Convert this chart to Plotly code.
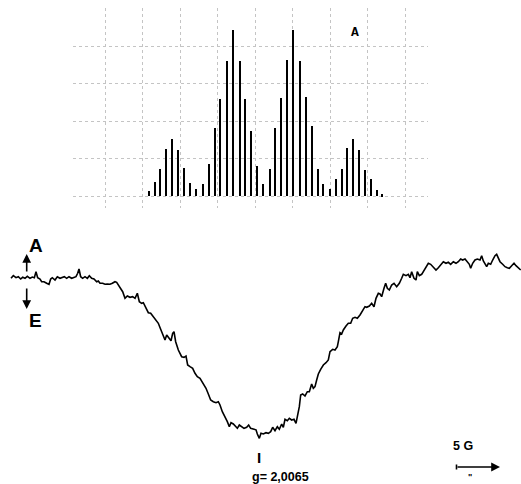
import plotly.graph_objects as go

# ---- EPR trace (field offset in G from g = 2.0065, signal in arbitrary units) ----
field_G = [
    -29.64, -29.36, -29.04, -28.76, -28.48, -28.24, -27.96, -27.68, -27.36, -27.08,
    -26.84, -26.64, -26.44, -26.16, -25.96, -25.68, -25.36, -25.08, -24.88, -24.68,
    -24.36, -24.08, -23.76, -23.56, -23.24, -22.96, -22.68, -22.36, -22.08, -21.84,
    -21.64, -21.48, -21.28, -21.04, -20.76, -20.48, -20.24, -19.96, -19.68, -19.36,
    -19.16, -18.96, -18.64, -18.36, -18.08, -17.76, -17.48, -17.16, -16.96, -16.76,
    -16.56, -16.24, -15.96, -15.68, -15.36, -15.04, -14.76, -14.48, -14.24, -13.96,
    -13.76, -13.44, -13.16, -12.88, -12.56, -12.24, -11.96, -11.68, -11.36, -11.16,
    -10.96, -10.68, -10.44, -10.24, -10.08, -9.88, -9.56, -9.16, -8.88, -8.64,
    -8.44, -8.16, -7.84, -7.56, -7.28, -6.96, -6.56, -6.24, -5.96, -5.68,
    -5.36, -5.04, -4.76, -4.56, -4.28, -3.96, -3.68, -3.44, -3.24, -2.96,
    -2.68, -2.48, -2.24, -1.96, -1.68, -1.36, -1.12, -0.88, -0.56, -0.24,
    -0.08, 0.16, 0.36, 0.64, 0.96, 1.24, 1.52, 1.76, 2.04, 2.32,
    2.56, 2.84, 3.04, 3.24, 3.52, 3.76, 4.04, 4.32, 4.56, 4.72,
    4.96, 5.12, 5.36, 5.64, 5.92, 6.16, 6.44, 6.64, 6.84, 7.04,
    7.24, 7.52, 7.84, 8.16, 8.44, 8.64, 8.96, 9.24, 9.52, 9.64,
    9.84, 10.04, 10.24, 10.56, 10.84, 11.12, 11.36, 11.64, 11.92, 12.24,
    12.56, 12.84, 13.04, 13.36, 13.64, 13.92, 14.16, 14.44, 14.64, 14.84,
    15.12, 15.32, 15.52, 15.76, 16.04, 16.32, 16.64, 16.96, 17.24, 17.44,
    17.76, 18.04, 18.24, 18.44, 18.72, 18.96, 19.12, 19.36, 19.64, 19.84,
    20.16, 20.44, 20.72, 21.04, 21.36, 21.64, 21.92, 22.24, 22.56, 22.84,
    23.12, 23.44, 23.76, 24.04, 24.32, 24.56, 24.84, 25.12, 25.36, 25.52,
    25.76, 26.04, 26.32, 26.64, 26.84, 27.04, 27.24, 27.44, 27.64, 27.92,
    28.16, 28.44, 28.64, 28.84, 29.04, 29.36, 29.64, 29.92, 30.16, 30.44,
    30.72, 30.96, 31.24, 31.52,
]
signal = [
    -0.03, 0.23, 0.03, 0.13, -0.10, 0.07, -0.03, 0.17, -0.03, 0.10,
    0.03, 0.63, 0.03, -0.10, -0.37, -0.37, -0.53, -0.63, -0.10, 0.03,
    -0.20, 0.13, -0.03, 0.03, 0.13, -0.03, 0.13, -0.03, 0.03, 0.13,
    0.47, 0.90, 0.13, -0.03, 0.13, -0.03, 0.23, -0.03, -0.10, -0.37,
    -0.30, -0.53, -0.53, -0.63, -0.60, -0.63, -0.53, -0.37, -0.43, -0.70,
    -0.95, -1.37, -2.03, -1.80, -1.93, -1.87, -2.03, -1.53, -2.37, -2.53,
    -2.47, -2.93, -3.47, -3.53, -3.87, -4.13, -4.53, -5.13, -5.70, -6.20,
    -5.70, -6.03, -6.27, -5.53, -5.37, -6.37, -7.20, -7.87, -7.93, -7.80,
    -8.70, -8.87, -9.03, -9.53, -9.87, -10.03, -10.60, -11.03, -11.60, -12.20,
    -12.37, -12.47, -12.37, -12.70, -13.37, -13.87, -14.37, -14.87, -14.47, -14.60,
    -14.80, -15.03, -14.70, -14.87, -15.03, -14.93, -14.70, -15.03, -15.13, -15.18,
    -15.60, -16.03, -15.53, -15.60, -15.47, -15.53, -15.37, -14.93, -15.27, -14.87,
    -15.13, -14.60, -14.93, -14.13, -14.27, -14.03, -14.20, -14.13, -14.53, -13.87,
    -12.87, -11.70, -11.60, -11.80, -11.37, -11.37, -10.60, -11.03, -10.87, -10.20,
    -9.60, -9.13, -8.70, -8.47, -8.20, -7.37, -7.13, -7.20, -6.87, -6.37,
    -5.47, -5.60, -5.20, -4.80, -4.53, -4.53, -4.03, -3.93, -4.03, -3.70,
    -3.27, -2.87, -2.93, -2.80, -2.53, -2.87, -2.03, -1.53, -1.60, -1.87,
    -1.03, -0.53, -1.03, -1.20, -0.70, -0.53, -0.87, -0.53, -0.03, 0.37,
    0.23, 0.37, 0.03, 0.63, -0.03, -0.20, 0.63, 0.23, 0.37, 0.63,
    0.97, 1.47, 1.37, 1.13, 0.80, 1.03, 1.37, 1.63, 1.47, 1.57,
    1.37, 1.63, 1.47, 1.63, 1.90, 1.80, 1.90, 1.63, 1.37, 0.97,
    1.47, 1.80, 1.90, 1.80, 2.23, 1.70, 1.37, 1.13, 1.47, 1.37,
    1.80, 2.23, 2.37, 2.03, 1.63, 1.37, 1.13, 1.03, 0.97, 1.23,
    1.47, 1.23, 0.97, 0.80,
]

# ---- simulated stick spectrum "A" (line position in G, relative intensity %) ----
stick_pos_G = [
    -13.08, -12.36, -11.76, -11.00, -10.32, -9.60, -8.84, -8.16, -7.44, -6.56,
    -5.88, -5.20, -4.52, -3.76, -3.04, -2.20, -1.52, -0.84, -0.16, 0.64,
    1.48, 2.08, 2.76, 3.52, 4.24, 5.00, 5.80, 6.48, 7.16, 7.84,
    8.60, 9.32, 10.04, 10.72, 11.44, 12.12, 12.80, 13.52, 14.24, 14.88,
]
stick_int = [
    3.0, 8.6, 16.2, 28.2, 34.2, 27.8, 16.8, 7.8, 4.2, 7.0,
    19.4, 41.0, 58.4, 81.4, 100.0, 81.4, 58.8, 39.4, 18.0, 7.4,
    16.4, 41.0, 59.4, 82.0, 100.0, 81.4, 59.6, 42.0, 16.0, 7.4,
    4.4, 10.0, 16.0, 28.8, 34.4, 28.0, 15.6, 10.4, 3.4, 1.0,
]

W, H = 521, 484
FONT = "Liberation Sans, Arial, sans-serif"

fig = go.Figure()
fig.add_trace(go.Scatter(x=field_G, y=signal, mode="lines",
                         line=dict(color="black", width=1.6),
                         xaxis="x", yaxis="y", hoverinfo="skip"))
fig.add_trace(go.Bar(x=stick_pos_G, y=stick_int, width=0.27,
                     marker=dict(color="black", line=dict(width=0)),
                     xaxis="x2", yaxis="y2", hoverinfo="skip"))


def px(x):
    return x / W


def py(y):
    return 1 - y / H


ann = [
    dict(text="<b>A</b>", x=px(361), y=py(33), font=dict(family="Liberation Mono, Courier New, monospace", size=13)),
    dict(text="<b>A</b>", x=px(26.5), y=py(245), font=dict(family=FONT, size=19)),
    dict(text="<b>E</b>", x=px(27), y=py(320), font=dict(family=FONT, size=19)),
    dict(text="<b>I</b>", x=px(259), y=py(457.5), font=dict(family=FONT, size=15)),
    dict(text="<b>g= 2,0065</b>", x=px(280), y=py(477), font=dict(family=FONT, size=12.5)),
    dict(text="<b>5 G</b>", x=px(475), y=py(446), font=dict(family=FONT, size=12.5)),
    dict(text="<b>\"</b>", x=px(474), y=py(484), yanchor="bottom", font=dict(family=FONT, size=9)),
]
for a in ann:
    a.update(xref="paper", yref="paper", showarrow=False)
    a.setdefault("yanchor", "middle")
    a["font"]["color"] = "black"

arrows = [
    dict(x=px(26.7), y=py(254), ax=0, ay=19),
    dict(x=px(26.7), y=py(309), ax=0, ay=-22),
    dict(x=px(500), y=py(467), ax=-44, ay=0),
]
for a in arrows:
    a.update(xref="paper", yref="paper", text="", showarrow=True,
             arrowhead=2, arrowsize=1.1, arrowwidth=1.6, arrowcolor="black")

bar_tick = dict(xref="paper", yref="paper", x=px(456.5), y=py(467), text="", showarrow=True,
                arrowhead=0, arrowwidth=1.6, arrowcolor="black", ax=0, ay=-4)
bar_tick2 = dict(xref="paper", yref="paper", x=px(456.5), y=py(467), text="", showarrow=True,
                 arrowhead=0, arrowwidth=1.6, arrowcolor="black", ax=0, ay=4)

GRID = "#c4c4c4"
fig.update_layout(
    width=W, height=H,
    margin=dict(l=0, r=0, t=0, b=0, pad=0),
    paper_bgcolor="white", plot_bgcolor="white",
    showlegend=False,
    bargap=0,
    xaxis=dict(domain=[0, 1], range=[-30.96, 31.56], visible=False),
    yaxis=dict(domain=[0, 1], range=[-20.6, 27.8], visible=False),
    xaxis2=dict(domain=[73 / W, 428 / W], range=[-22.2, 20.4], anchor="y2",
                showgrid=True, gridcolor=GRID, griddash="dot", gridwidth=1,
                tick0=-0.36, dtick=4.5, showticklabels=False, ticks="",
                zeroline=False, showline=False),
    yaxis2=dict(domain=[(H - 208) / H, (H - 8) / H], range=[-7.23, 113.4], anchor="x2",
                showgrid=True, gridcolor=GRID, griddash="dot", gridwidth=1,
                tick0=0, dtick=22.6, showticklabels=False, ticks="",
                zeroline=False, showline=False),
    annotations=ann + arrows + [bar_tick, bar_tick2],
)

fig.write_html("out.html")
